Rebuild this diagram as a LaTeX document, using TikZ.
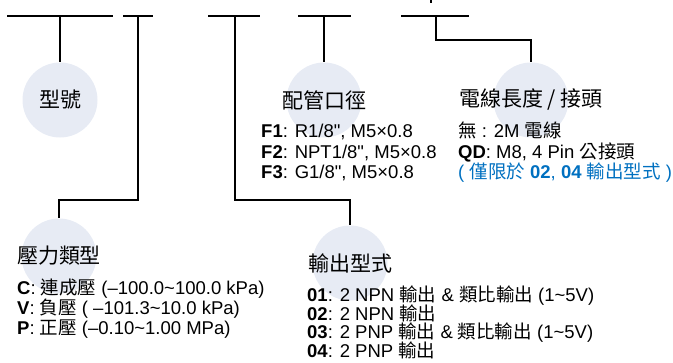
\documentclass[tikz,border=0pt]{standalone}
\usepackage{fontspec}
\setmainfont{Liberation Sans}
\newfontfamily\cjk{Noto Sans CJK TC}
\newcommand\zh[1]{{\cjk #1}}
\newcommand\wave{\textasciitilde}
\definecolor{BubbleGray}{HTML}{E7EBF4}
\definecolor{NoteBlue}{HTML}{0070C0}

\begin{document}
\begin{tikzpicture}[x=1pt,y=-1pt,
  bubble/.style={circle,fill=BubbleGray,minimum size=75pt,inner sep=0pt},
  head/.style={font=\cjk\fontsize{21}{24}\selectfont,inner sep=0pt},
  row/.style={font=\fontsize{18.5}{20}\selectfont,anchor=base west,inner sep=0pt},
  wire/.style={line width=1.1pt}]
  \useasboundingbox (0,0) rectangle (673,362);
  % code bars along the top
  \foreach \n/\a/\b/\m in {A/7/113/60,B/123/153/138,C/208/260/235,D/298/351/324,E/401/469/436}{
    \coordinate (\n l) at (\a,16); \coordinate (\n r) at (\b,16); \coordinate (\n) at (\m,16);
    \draw[wire] (\n l)--(\n r);}
  \coordinate (tick) at (431,0); \draw[wire] (tick)--++(0,3);
  % bubbles and their titles
  \node[bubble] (model) at (60,100) {};  \node[head] (modelT) at (model) {型號};
  \node[bubble] (port) at (324,100) {};  \node[head] (portT) at (port) {配管口徑};
  \node[bubble] (cable) at (531,100) {}; \node[head] (cableT) at (cable) {電線長度 / 接頭};
  \node[bubble] (range) at (59,256) {};  \node[head] (rangeT) at (range) {壓力類型};
  \node[bubble] (output) at (350,263) {};\node[head] (outputT) at (output) {輸出型式};
  % leader lines
  \draw[wire] (A)--(model.north);
  \draw[wire] (D)--(port.north);
  \draw[wire] (E)--++(0,24)-|(cable.north);
  \draw[wire] (B)--++(0,184)-|(range.north);
  \draw[wire] (C)--++(0,184)-|(output.north);
  % option lists
  \foreach \t [count=\i] in {{\textbf{F1}: R1/8\textquotedbl, M5×0.8},{\textbf{F2}: NPT1/8\textquotedbl, M5×0.8},{\textbf{F3}: G1/8\textquotedbl, M5×0.8}}
    \node[row] (port\i) at (261,117+20.5*\i) {\t};
  \node[row] (cable1) at (458,137.5) {\zh{無} : 2M \zh{電線}};
  \node[row] (cable2) at (458,158) {\textbf{QD}: M8, 4 Pin \zh{公接頭}};
  \node[row,NoteBlue] (cable3) at (458,178.5) {( \zh{僅限於} \textbf{02}, \textbf{04} \zh{輸出型式} )};
  \foreach \t [count=\i] in {{\textbf{C}: \zh{連成壓} (–100.0\wave100.0 kPa)},{\textbf{V}: \zh{負壓} ( –101.3\wave10.0 kPa)},{\textbf{P}: \zh{正壓} (–0.10\wave1.00 MPa)}}
    \node[row] (range\i) at (17,274.5+20*\i) {\t};
  \foreach \t [count=\i] in {{\textbf{01}: 2 NPN \zh{輸出} \& \zh{類比輸出} (1\wave5V)},{\textbf{02}: 2 NPN \zh{輸出}},{\textbf{03}: 2 PNP \zh{輸出} \& \zh{類比輸出} (1\wave5V)},{\textbf{04}: 2 PNP \zh{輸出}}}
    \node[row] (output\i) at (307,282.8+18.7*\i) {\t};
\end{tikzpicture}
\end{document}
